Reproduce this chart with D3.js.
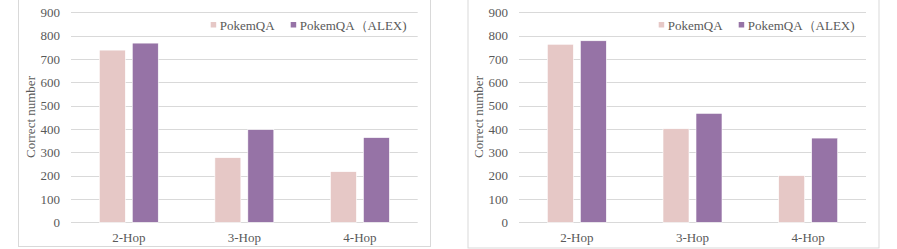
<!DOCTYPE html>
<html>
<head>
<meta charset="utf-8">
<script src="https://cdn.jsdelivr.net/npm/d3@7"></script>
<style>
  body { margin: 0; background: #fff; }
  text { font-family: "Times New Roman", "Liberation Serif", serif; fill: #595959; }
</style>
</head>
<body>
<div id="chart"></div>
<script>
// data
let categories = ["2-Hop", "3-Hop", "4-Hop"];
let series = ["PokemQA", "PokemQA（ALEX)"];
let leftPokemQA = [738, 277, 217];
let leftAlex = [768, 397, 363];
let rightPokemQA = [763, 401, 200];
let rightAlex = [778, 467, 361];
let yTicks = [0, 100, 200, 300, 400, 500, 600, 700, 800, 900];

let color = ["#e6c8c6", "#9673a6"];

let svg = d3.select("#chart").append("svg")
    .attr("width", 897)
    .attr("height", 249);

// one panel per chart; box is the outer frame, plot is the grid area
function drawPanel(box, plot, values) {
    let g = svg.append("g");

    g.append("rect")
        .attr("x", box.x + 0.5)
        .attr("y", -5)
        .attr("width", box.w)
        .attr("height", box.bottom + 5)
        .attr("fill", "#fff")
        .attr("stroke", "#d9d9d9");

    let x0 = d3.scaleBand()
        .domain(categories)
        .range([plot.left, plot.right])
        .paddingInner(0.49)
        .paddingOuter(0.245);
    let x1 = d3.scaleBand()
        .domain(series)
        .range([0, x0.bandwidth()])
        .paddingInner(0.212);
    let y = d3.scaleLinear()
        .domain([0, 900])
        .range([222.3, 12.3]);

    // gridlines
    g.selectAll(".grid")
        .data(yTicks)
        .enter().append("line")
        .attr("x1", plot.left)
        .attr("x2", plot.right)
        .attr("y1", d => Math.round(y(d)) + 0.5)
        .attr("y2", d => Math.round(y(d)) + 0.5)
        .attr("stroke", "#d9d9d9");

    // y tick labels
    g.selectAll(".ytick")
        .data(yTicks)
        .enter().append("text")
        .attr("x", plot.left - 11)
        .attr("y", d => y(d))
        .attr("dy", "0.35em")
        .attr("text-anchor", "end")
        .style("font-size", "13px")
        .text(d => d);

    // bars
    let rows = categories.map((c, i) => ({cat: c, vals: [values[0][i], values[1][i]]}));
    let groups = g.selectAll(".grp")
        .data(rows)
        .enter().append("g")
        .attr("transform", d => "translate(" + x0(d.cat) + ",0)");
    groups.selectAll("rect")
        .data(d => d.vals.map((v, j) => ({s: series[j], v: v, j: j})))
        .enter().append("rect")
        .attr("x", d => x1(d.s))
        .attr("width", x1.bandwidth())
        .attr("y", d => y(d.v))
        .attr("height", d => y(0) - y(d.v))
        .attr("fill", d => color[d.j])
        .attr("stroke", "#fff")
        .attr("stroke-width", 0.6);

    // category labels
    g.selectAll(".xlab")
        .data(categories)
        .enter().append("text")
        .attr("x", d => x0(d) + x0.bandwidth() / 2)
        .attr("y", 242)
        .attr("text-anchor", "middle")
        .style("font-size", "13px")
        .text(d => d);

    // y axis title
    g.append("text")
        .attr("transform", "translate(" + (plot.left - 36) + "," + 117 + ") rotate(-90)")
        .attr("text-anchor", "middle")
        .style("font-size", "13px")
        .text("Correct number");

    // legend
    let lx = [plot.left + 139.7, plot.left + 219.7];
    series.forEach((s, j) => {
        g.append("rect")
            .attr("x", lx[j])
            .attr("y", 22)
            .attr("width", 5.5)
            .attr("height", 5.5)
            .attr("fill", color[j]);
        g.append("text")
            .attr("x", lx[j] + 9)
            .attr("y", 25)
            .attr("dy", "0.35em")
            .style("font-size", "13px")
            .text(s);
    });
}

drawPanel({x: 18, w: 412, bottom: 246.5}, {left: 71, right: 417.7}, [leftPokemQA, leftAlex]);
drawPanel({x: 467.5, w: 411, bottom: 248}, {left: 519, right: 866}, [rightPokemQA, rightAlex]);
</script>
</body>
</html>
